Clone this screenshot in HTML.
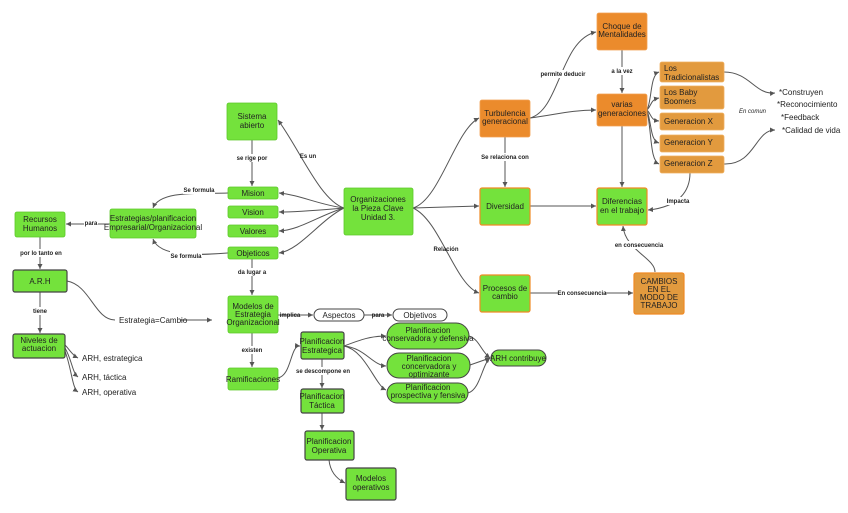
<!DOCTYPE html>
<html><head><meta charset="utf-8"><style>
html,body{margin:0;padding:0;background:#fff}
svg{display:block}
text{font-family:"Liberation Sans",sans-serif;fill:#222}
.n{font-size:8px;text-anchor:middle}
.l{font-size:6px;font-weight:bold;text-anchor:middle}
.g{fill:#74e23c;stroke:#5cc82a;stroke-width:0.8}
.gd{fill:#74e23c;stroke:#444;stroke-width:1.2}
.go{fill:#74e23c;stroke:#f08a24;stroke-width:1.2}
.o{fill:#eb8b2c;stroke:#f2a050;stroke-width:0.8}
.o2{fill:#e29a3e;stroke:#f0b060;stroke-width:0.8}
.e{fill:#74e23c;stroke:#444;stroke-width:1}
.w{fill:#fff;stroke:#444;stroke-width:1}
path{fill:none;stroke:#555;stroke-width:1;marker-end:url(#a)}
.lb{fill:#fff}
</style></head><body>
<svg width="848" height="513" viewBox="0 0 848 513">
<defs><marker id="a" markerWidth="6" markerHeight="6" refX="5" refY="3" orient="auto"><path d="M0,0.5 L5,3 L0,5.5 z" style="fill:#555;stroke:none;marker-end:none"/></marker></defs>

<!-- connectors -->
<path d="M344,208 C320,200 300,150 278,120"/>
<path d="M344,208 C320,205 300,195 279,193"/>
<path d="M344,208 C320,210 300,212 279,212"/>
<path d="M344,208 C320,215 300,230 279,231"/>
<path d="M344,208 C320,220 300,250 279,253"/>
<path d="M252,140 L252,186"/>
<path d="M228,193 C200,194 160,190 153,208"/>
<path d="M228,253 C200,255 160,258 153,239"/>
<path d="M110,224 L66,224"/>
<path d="M40,237 L40,269"/>
<path d="M40,292 L40,333"/>
<path d="M67,281 C90,285 95,320 115,320" style="marker-end:none"/>
<path d="M180,320 L212,320"/>
<path d="M65,345 C70,350 72,355 78,358"/>
<path d="M65,348 C72,360 72,372 78,377"/>
<path d="M65,351 C72,370 72,388 78,392"/>
<path d="M252,259 L252,295"/>
<path d="M252,333 L252,367"/>
<path d="M278,315 L313,315"/>
<path d="M364,315 L392,315"/>
<path d="M278,378 C292,375 290,345 300,346"/>
<path d="M322,359 L322,388"/>
<path d="M322,413 L322,430"/>
<path d="M329,460 C330,470 335,478 345,483"/>
<path d="M344,346 C360,340 370,336 386,336"/>
<path d="M344,346 C365,348 372,365 386,366"/>
<path d="M344,346 C365,350 375,385 386,390"/>
<path d="M469,336 C480,340 480,350 490,358"/>
<path d="M470,365 L490,358"/>
<path d="M468,393 C480,390 482,365 490,358"/>
<path d="M413,208 C440,200 455,130 479,118"/>
<path d="M413,208 L479,206"/>
<path d="M413,208 C440,220 455,285 479,293"/>
<path d="M530,118 C560,110 560,40 596,32"/>
<path d="M530,118 C555,115 570,110 596,110"/>
<path d="M505,137 L505,187"/>
<path d="M622,50 L622,93"/>
<path d="M622,126 L622,187"/>
<path d="M530,206 L596,206"/>
<path d="M530,293 L633,293"/>
<path d="M655,272 C655,258 625,250 623,226"/>
<path d="M690,173 C690,190 680,207 648,210"/>
<path d="M647,110 C652,100 650,75 659,72"/>
<path d="M647,110 C652,105 650,100 659,98"/>
<path d="M647,110 C652,115 650,120 659,121"/>
<path d="M647,110 C652,125 650,140 659,143"/>
<path d="M647,110 C652,135 650,160 659,164"/>
<path d="M724,72 C750,72 755,95 775,93"/>
<path d="M724,164 C755,165 755,130 775,130"/>

<!-- labels -->
<rect class="lb" x="236" y="154" width="32" height="8" style="stroke:none"/><text class="l" x="252" y="160">se rige por</text>
<text class="l" x="308" y="158">Es un</text>
<rect class="lb" x="183" y="186" width="32" height="8" style="stroke:none"/><text class="l" x="199" y="192">Se formula</text>
<rect class="lb" x="170" y="251" width="32" height="8" style="stroke:none"/><text class="l" x="186" y="258">Se formula</text>
<rect class="lb" x="84" y="219" width="14" height="8" style="stroke:none"/><text class="l" x="91" y="225">para</text>
<rect class="lb" x="18" y="249" width="46" height="8" style="stroke:none"/><text class="l" x="41" y="255">por lo tanto en</text>
<rect class="lb" x="32" y="307" width="16" height="8" style="stroke:none"/><text class="l" x="40" y="313">tiene</text>
<text x="119" y="323" style="font-size:8px">Estrategia=Cambio</text>
<text x="82" y="361" style="font-size:8px">ARH, estrategica</text>
<text x="82" y="380" style="font-size:8px">ARH, táctica</text>
<text x="82" y="395" style="font-size:8px">ARH, operativa</text>
<rect class="lb" x="238" y="268" width="28" height="8" style="stroke:none"/><text class="l" x="252" y="274">da lugar a</text>
<rect class="lb" x="242" y="346" width="20" height="8" style="stroke:none"/><text class="l" x="252" y="352">existen</text>
<text class="l" x="290" y="317">implica</text>
<text class="l" x="378" y="317">para</text>
<rect class="lb" x="298" y="367" width="50" height="8" style="stroke:none"/><text class="l" x="323" y="373">se descompone en</text>
<rect class="lb" x="542" y="70" width="44" height="8" style="stroke:none"/><text class="l" x="563" y="76">permite deducir</text>
<rect class="lb" x="610" y="67" width="24" height="8" style="stroke:none"/><text class="l" x="622" y="73">a la vez</text>
<rect class="lb" x="482" y="153" width="46" height="8" style="stroke:none"/><text class="l" x="505" y="159">Se relaciona con</text>
<text class="l" x="446" y="251">Relación</text>
<rect class="lb" x="559" y="289" width="46" height="8" style="stroke:none"/><text class="l" x="582" y="295">En consecuencia</text>
<rect class="lb" x="617" y="241" width="44" height="8" style="stroke:none"/><text class="l" x="639" y="247">en consecuencia</text>
<rect class="lb" x="667" y="197" width="22" height="8" style="stroke:none"/><text class="l" x="678" y="203">Impacta</text>
<text x="739" y="113" style="font-size:6px;font-style:italic">En comun</text>
<text x="779" y="95" style="font-size:8px">*Construyen</text>
<text x="777" y="107" style="font-size:8px">*Reconocimiento</text>
<text x="781" y="120" style="font-size:8px">*Feedback</text>
<text x="782" y="133" style="font-size:8px">*Calidad de vida</text>

<!-- nodes -->
<rect class="g" x="227" y="103" width="50" height="37" rx="2"/><text class="n" x="252" y="119">Sistema</text><text class="n" x="252" y="128">abierto</text>
<rect class="g" x="228" y="187" width="50" height="12" rx="2"/><text class="n" x="253" y="196">Mision</text>
<rect class="g" x="228" y="206" width="50" height="12" rx="2"/><text class="n" x="253" y="215">Vision</text>
<rect class="g" x="228" y="225" width="50" height="12" rx="2"/><text class="n" x="253" y="234">Valores</text>
<rect class="g" x="228" y="247" width="50" height="12" rx="2"/><text class="n" x="253" y="256">Objeticos</text>
<rect class="g" x="344" y="188" width="69" height="47" rx="2"/><text class="n" x="378" y="202">Organizaciones</text><text class="n" x="378" y="211">la Pieza Clave</text><text class="n" x="378" y="220">Unidad 3.</text>
<rect class="g" x="110" y="209" width="86" height="29" rx="2"/><text class="n" x="153" y="221">Estrategias/planificacion</text><text class="n" x="153" y="230">Empresarial/Organizacional</text>
<rect class="g" x="15" y="212" width="50" height="25" rx="2"/><text class="n" x="40" y="222">Recursos</text><text class="n" x="40" y="231">Humanos</text>
<rect class="gd" x="13" y="270" width="54" height="22" rx="2"/><text class="n" x="40" y="284">A.R.H</text>
<rect class="gd" x="13" y="334" width="52" height="24" rx="2"/><text class="n" x="39" y="343">Niveles de</text><text class="n" x="39" y="351">actuacion</text>
<rect class="g" x="228" y="296" width="50" height="37" rx="2"/><text class="n" x="253" y="309">Modelos de</text><text class="n" x="253" y="317">Estrategia</text><text class="n" x="253" y="325">Organizacional</text>
<rect class="g" x="228" y="368" width="50" height="22" rx="2"/><text class="n" x="253" y="382">Ramificaciones</text>
<rect class="gd" x="301" y="332" width="43" height="27" rx="2"/><text class="n" x="322" y="344">Planificacion</text><text class="n" x="322" y="353">Estrategica</text>
<rect class="gd" x="301" y="389" width="43" height="24" rx="2"/><text class="n" x="322" y="399">Planificacion</text><text class="n" x="322" y="408">Táctica</text>
<rect class="gd" x="305" y="431" width="49" height="29" rx="2"/><text class="n" x="329" y="444">Planificacion</text><text class="n" x="329" y="453">Operativa</text>
<rect class="gd" x="346" y="468" width="50" height="32" rx="2"/><text class="n" x="371" y="481">Modelos</text><text class="n" x="371" y="490">operativos</text>
<rect class="w" x="314" y="309" width="50" height="12" rx="6"/><text class="n" x="339" y="318">Aspectos</text>
<rect class="w" x="393" y="309" width="54" height="12" rx="6"/><text class="n" x="420" y="318">Objetivos</text>
<rect class="e" x="387" y="323" width="82" height="26" rx="13"/><text class="n" x="428" y="333">Planificacion</text><text class="n" x="428" y="341">conservadora y defensiva</text>
<rect class="e" x="387" y="353" width="83" height="25" rx="12"/><text class="n" x="429" y="361">Planificacion</text><text class="n" x="429" y="369">concervadora y</text><text class="n" x="429" y="377">optimizante</text>
<rect class="e" x="387" y="383" width="81" height="20" rx="10"/><text class="n" x="428" y="390">Planificacion</text><text class="n" x="428" y="398">prospectiva y fensiva</text>
<rect class="e" x="491" y="350" width="55" height="16" rx="8"/><text class="n" x="518" y="361">ARH contribuye</text>
<rect class="o" x="480" y="100" width="50" height="37" rx="2"/><text class="n" x="505" y="116">Turbulencia</text><text class="n" x="505" y="124">generacional</text>
<rect class="o" x="597" y="13" width="50" height="37" rx="2"/><text class="n" x="622" y="29">Choque de</text><text class="n" x="622" y="37">Mentalidades</text>
<rect class="o" x="597" y="94" width="50" height="32" rx="2"/><text class="n" x="622" y="107">varias</text><text class="n" x="622" y="116">generaciones</text>
<rect class="go" x="480" y="188" width="50" height="37" rx="2"/><text class="n" x="505" y="209">Diversidad</text>
<rect class="go" x="597" y="188" width="50" height="37" rx="2"/><text class="n" x="622" y="204">Diferencias</text><text class="n" x="622" y="213">en el trabajo</text>
<rect class="go" x="480" y="275" width="50" height="37" rx="2"/><text class="n" x="505" y="291">Procesos de</text><text class="n" x="505" y="299">cambio</text>
<rect class="o2" x="634" y="273" width="50" height="41" rx="2" style="stroke:#f08a24;stroke-width:1.2"/><text class="n" x="659" y="284">CAMBIOS</text><text class="n" x="659" y="292">EN EL</text><text class="n" x="659" y="300">MODO DE</text><text class="n" x="659" y="308">TRABAJO</text>
<rect class="o2" x="660" y="62" width="64" height="20" rx="2"/><text x="664" y="71" style="font-size:8px">Los</text><text x="664" y="80" style="font-size:8px">Tradicionalistas</text>
<rect class="o2" x="660" y="86" width="64" height="23" rx="2"/><text x="664" y="95" style="font-size:8px">Los Baby</text><text x="664" y="104" style="font-size:8px">Boomers</text>
<rect class="o2" x="660" y="113" width="64" height="17" rx="2"/><text x="664" y="124" style="font-size:8px">Generacion X</text>
<rect class="o2" x="660" y="135" width="64" height="17" rx="2"/><text x="664" y="145" style="font-size:8px">Generacion  Y</text>
<rect class="o2" x="660" y="156" width="64" height="17" rx="2"/><text x="664" y="166" style="font-size:8px">Generacion Z</text>
</svg>
</body></html>
